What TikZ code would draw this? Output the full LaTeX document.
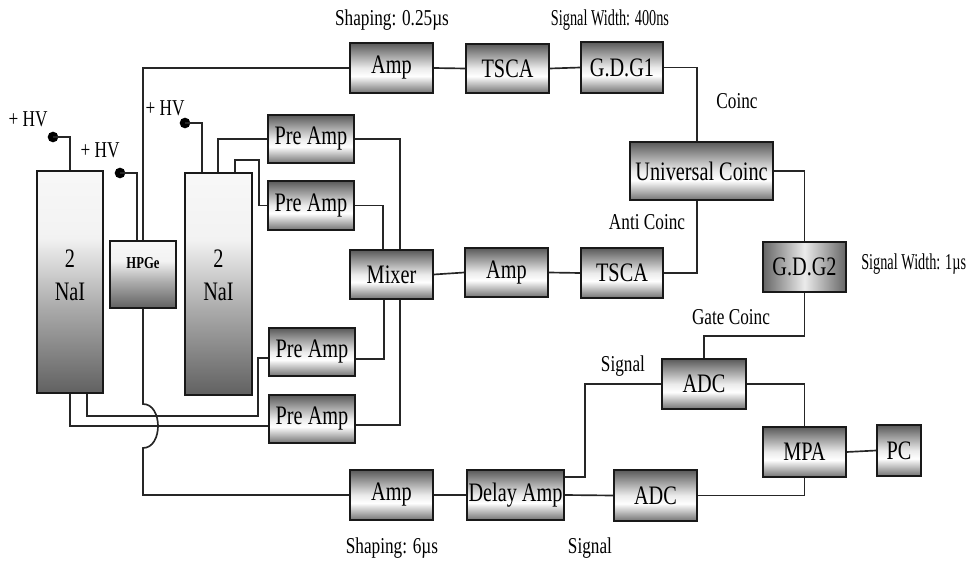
\documentclass[tikz,border=0pt]{standalone}
\usepackage{fontspec}
\setmainfont{Liberation Serif}[FakeStretch=0.76]
\newfontfamily\narrowserif{Liberation Serif}[FakeStretch=0.63]
\pgfdeclareverticalshading{boxshade}{100bp}{color(0bp)=(black!55); color(25bp)=(black!55); color(42bp)=(white); color(50bp)=(white!92!black); color(75bp)=(black!65); color(100bp)=(black!65)}
\pgfdeclarehorizontalshading{gdgshade}{100bp}{color(0bp)=(black!60); color(25bp)=(black!60); color(50bp)=(white!92!black); color(75bp)=(black!60); color(100bp)=(black!60)}
\pgfdeclareverticalshading{detshade}{100bp}{color(0bp)=(black!62); color(25bp)=(black!62); color(45bp)=(black!32); color(60bp)=(black!5); color(75bp)=(black!3); color(100bp)=(black!3)}
\begin{document}
\begin{tikzpicture}[x=0.75pt,y=-0.75pt,
  bxsize/.style 2 args={minimum width=#1*0.75pt, minimum height=#2*0.75pt},
  box/.style={draw=black!90, line width=1.2pt, shading=boxshade, inner sep=0pt, font=\fontsize{20}{24}\selectfont},
  gbox/.style={box, shading=gdgshade},
  det/.style={draw=black!90, line width=1.2pt, shading=detshade, inner sep=0pt},
  dettext/.style={align=center, font=\fontsize{20}{25}\selectfont, inner sep=0pt},
  lbl/.style={inner sep=0pt, font=\fontsize{17}{20}\selectfont},
  nlbl/.style={inner sep=0pt, font=\narrowserif\fontsize{17}{20}\selectfont},
  dot/.style={circle, fill=black, inner sep=0pt, minimum size=8pt},
  wire/.style={line width=1.25pt, draw=black!85}]
\useasboundingbox (0,0) rectangle (979,563);

% detectors
\node[det, bxsize={66}{222}] (nai1) at (70,282) {};
\node[dettext] (nai1t) at (70,275) {2\\NaI};
\node[det, bxsize={66}{67}] (hpge) at (143,274.5) {};
\node[inner sep=0pt, font=\bfseries\fontsize{12.5}{14}\selectfont] (hpget) at (143,263) {HPGe};
\node[det, bxsize={67}{222}] (nai2) at (218.5,284) {};
\node[dettext] (nai2t) at (218.5,275) {2\\NaI};

% HV dots and labels
\node[dot] (d1) at (53,137) {};
\node[dot] (d2) at (120,173) {};
\node[dot] (d3) at (185,123) {};
\node[lbl] (hv1) at (28,119) {+ HV};
\node[lbl] (hv2) at (100,150) {+ HV};
\node[lbl] (hv3) at (165,108) {+ HV};

% boxes
\node[box, bxsize={83}{50}] (amp1) at (391.5,68) {Amp};
\node[box, bxsize={83}{49}] (tsca1) at (507.5,68.5) {TSCA};
\node[box, bxsize={82}{51}] (gdg1) at (622,67.5) {G.D.G1};
\node[box, bxsize={143}{58}] (uc) at (701.5,171) {Universal Coinc};
\node[gbox, bxsize={83}{50}] (gdg2) at (804.5,267) {G.D.G2};
\node[box, bxsize={82}{50}] (tsca2) at (622,273) {TSCA};
\node[box, bxsize={83}{49}] (amp2) at (506.5,272.5) {Amp};
\node[box, bxsize={83}{49}] (mixer) at (391.5,274.5) {Mixer};
\node[box, bxsize={86}{48}] (pre1) at (311,139) {Pre Amp};
\node[box, bxsize={86}{49}] (pre2) at (311,205.5) {Pre Amp};
\node[box, bxsize={86}{48}] (pre3) at (312,352) {Pre Amp};
\node[box, bxsize={86}{48}] (pre4) at (312,419) {Pre Amp};
\node[box, bxsize={84}{50}] (adc1) at (704,384) {ADC};
\node[box, bxsize={83}{50}] (mpa) at (804.5,452) {MPA};
\node[box, bxsize={44}{51}] (pc) at (899,450.5) {PC};
\node[box, bxsize={83}{51}] (adc2) at (655.5,495.5) {ADC};
\node[box, bxsize={83}{50}] (amp3) at (391.5,495) {Amp};
\node[box, bxsize={97}{50}] (damp) at (515.5,495) {Delay Amp};

% labels
\node[lbl] (l1) at (392,20) {Shaping: 0.25µs};
\node[nlbl] (l2) at (610,20) {Signal Width: 400ns};
\node[lbl] (l3) at (737,101) {Coinc};
\node[lbl] (l4) at (647,222) {Anti Coinc};
\node[nlbl, anchor=west] (l5) at (861,264) {Signal Width: 1µs};
\node[lbl] (l6) at (731,317) {Gate Coinc};
\node[lbl] (l7) at (623,366) {Signal};
\node[lbl] (l8) at (392,548) {Shaping: 6µs};
\node[lbl] (l9) at (590,548) {Signal};

% HV wires
\draw[wire] (nai1.north) |- (d1.center);
\draw[wire] (137,0 |- hpge.north) |- (d2.center);
\draw[wire] (202,0 |- nai2.north) |- (d3.center);

% top chain
\draw[wire] (hpge.north) |- (amp1.west);
\draw[wire] (amp1.east) -- (tsca1.west);
\draw[wire] (tsca1.east) -- (gdg1.west);
\draw[wire] (gdg1.east) -| (697,0 |- uc.north);
\draw[wire] (uc.east) -| (gdg2.north);
\draw[wire] (697,0 |- uc.south) |- (tsca2.east);
\draw[wire] (amp2.east) -- (tsca2.west);
\draw[wire] (mixer.east) -- (amp2.west);

% NaI2 to pre amps
\draw[wire] (218,0 |- nai2.north) |- (pre1.west);
\draw[wire] (235,0 |- nai2.north) |- (259,160) |- (pre2.west);
% NaI1 to pre amps
\draw[wire] (87,0 |- nai1.south) |- (258,416) |- (pre3.west |- 0,358);
\draw[wire] (nai1.south) |- (pre4.west |- 0,426);
% pre amps to mixer
\draw[wire] (pre1.east) -| (400,0 |- mixer.north);
\draw[wire] (pre2.east) -| (383,0 |- mixer.north);
\draw[wire] (pre3.east |- 0,359) -| (384,0 |- mixer.south);
\draw[wire] (pre4.east |- 0,425) -| (400,0 |- mixer.south);

% HPGe energy branch with hop
\draw[wire] (hpge.south) -- (143,404) .. controls (163,404) and (163,448) .. (143,448) |- (amp3.west);
\draw[wire] (amp3.east) -- (damp.west);
\draw[wire] (damp.east |- 0,477) -| (585,0 |- adc1.west) -- (adc1.west);
\draw[wire] (damp.east) -- (adc2.west);
\draw[wire] (gdg2.south) |- (adc1.north |- 0,336) -- (adc1.north);
\draw[wire] (adc1.east) -| (mpa.north);
\draw[wire] (adc2.east) -| (mpa.south);
\draw[wire] (mpa.east) -- (pc.west);
\end{tikzpicture}
\end{document}
